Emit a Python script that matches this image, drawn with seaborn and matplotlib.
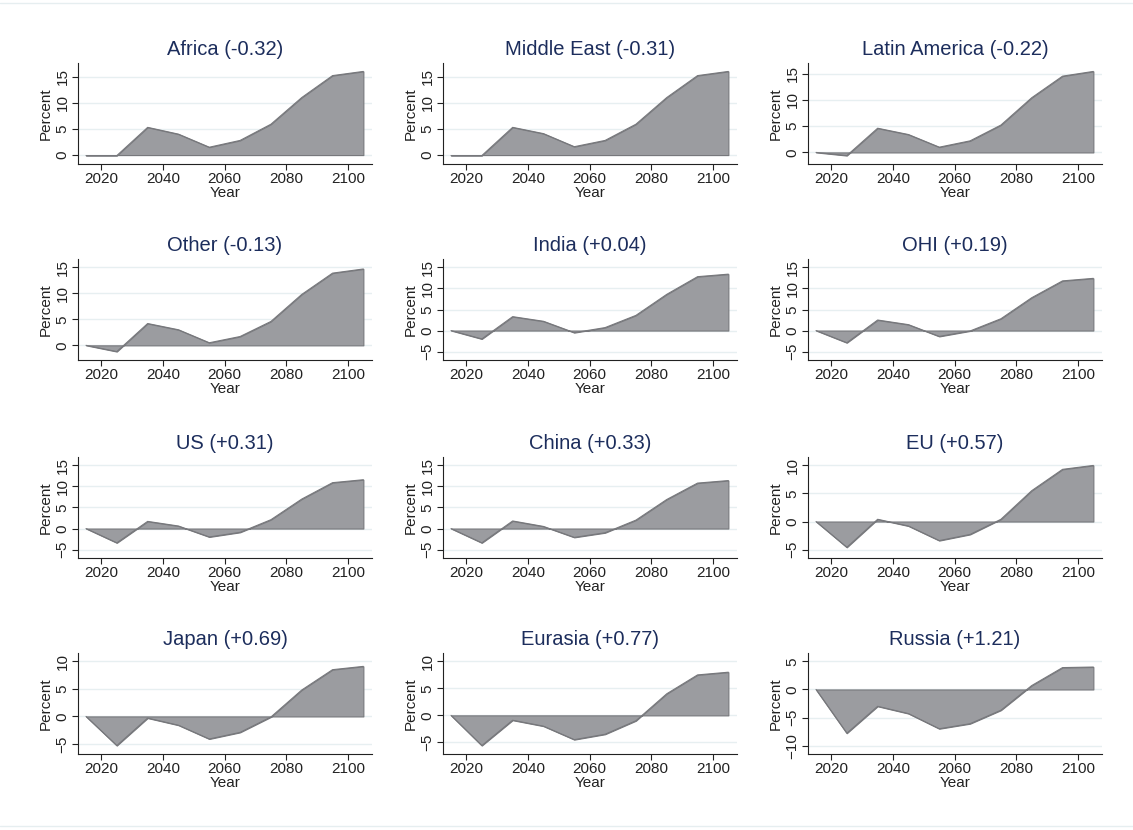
import numpy as np
import pandas as pd
import matplotlib
matplotlib.use("Agg")
import matplotlib.pyplot as plt
from matplotlib.lines import Line2D
import seaborn as sns

# Projection years and percent change by region
years = [2015, 2025, 2035, 2045, 2055, 2065, 2075, 2085, 2095, 2105]

regions = ["Africa", "Middle East", "Latin America",
           "Other", "India", "OHI",
           "US", "China", "EU",
           "Japan", "Eurasia", "Russia"]

coefs = ["-0.32", "-0.31", "-0.22",
         "-0.13", "+0.04", "+0.19",
         "+0.31", "+0.33", "+0.57",
         "+0.69", "+0.77", "+1.21"]

africa = [-0.1, -0.1, 5.3, 4.0, 1.5, 2.8, 5.9, 11.0, 15.2, 16.0]
middle_east = [-0.1, -0.1, 5.3, 4.1, 1.6, 2.8, 5.9, 11.0, 15.2, 16.0]
latin_america = [0.0, -0.6, 4.6, 3.4, 1.0, 2.2, 5.2, 10.4, 14.5, 15.4]
other = [0.0, -1.2, 4.2, 3.0, 0.5, 1.7, 4.6, 9.8, 13.9, 14.7]
india = [0.0, -2.0, 3.3, 2.2, -0.5, 0.7, 3.6, 8.6, 12.8, 13.4]
ohi = [0.0, -2.9, 2.5, 1.4, -1.4, -0.1, 2.8, 7.8, 11.8, 12.4]
us = [0.0, -3.4, 1.7, 0.6, -2.0, -0.9, 2.1, 7.0, 10.9, 11.6]
china = [0.0, -3.4, 1.8, 0.5, -2.1, -1.0, 2.0, 6.9, 10.8, 11.4]
eu = [0.0, -4.6, 0.4, -0.8, -3.4, -2.3, 0.4, 5.5, 9.3, 10.0]
japan = [0.0, -5.3, -0.3, -1.6, -4.1, -2.9, -0.1, 4.8, 8.5, 9.1]
eurasia = [0.0, -5.6, -0.9, -2.0, -4.5, -3.5, -1.0, 4.0, 7.5, 8.0]
russia = [0.0, -7.8, -3.0, -4.3, -7.0, -6.1, -3.7, 0.7, 3.9, 4.0]

series = [africa, middle_east, latin_america,
          other, india, ohi,
          us, china, eu,
          japan, eurasia, russia]

# y-axis tick marks for each panel
yticks = [[0, 5, 10, 15], [0, 5, 10, 15], [0, 5, 10, 15],
          [0, 5, 10, 15], [-5, 0, 5, 10, 15], [-5, 0, 5, 10, 15],
          [-5, 0, 5, 10, 15], [-5, 0, 5, 10, 15], [-5, 0, 5, 10],
          [-5, 0, 5, 10], [-5, 0, 5, 10], [-10, -5, 0, 5]]
xticks = [2020, 2040, 2060, 2080, 2100]

df = pd.DataFrame({
    "Region": np.repeat(regions, len(years)),
    "Year": years * len(regions),
    "Percent": np.concatenate(series),
})

sns.set_theme(style="white")
plt.rcParams["font.family"] = ["Liberation Sans", "DejaVu Sans"]

FILL = "#9b9ca0"
EDGE = "#77787c"
TITLE = "#1c2d5c"
GRID = "#e7eff1"
INK = "#222222"

W, H = 1133, 830
fig = plt.figure(figsize=(W / 100, H / 100), dpi=100)
fig.patch.set_facecolor("white")

col_left = [78, 443, 808]
row_top = [63, 259, 457, 653]
ax_w, ax_h = 294, 101

for i, region in enumerate(regions):
    r, c = divmod(i, 3)
    ax = fig.add_axes([col_left[c] / W, 1 - (row_top[r] + ax_h) / H, ax_w / W, ax_h / H])
    sub = df[df["Region"] == region]

    ax.fill_between(sub["Year"], sub["Percent"], 0, facecolor=FILL,
                    edgecolor=EDGE, linewidth=0.8, zorder=2)
    sns.lineplot(data=sub, x="Year", y="Percent", ax=ax, color=EDGE,
                 linewidth=0.8, zorder=3)

    ticks = yticks[i]
    lo = min(sub["Percent"].min(), min(ticks))
    hi = max(sub["Percent"].max(), max(ticks))
    pad = 0.1 * (hi - lo)
    ax.set_ylim(lo - pad, hi + pad)
    ax.set_xlim(2012.4, 2107.8)

    ax.set_yticks(ticks)
    ax.set_xticks(xticks)
    for t in ticks:
        ax.axhline(t, color=GRID, linewidth=1.0, zorder=1)

    ax.tick_params(axis="both", which="major", direction="out", length=4,
                   width=0.8, color=INK, labelsize=11,
                   labelcolor=INK, pad=2, left=True, bottom=True)
    ax.tick_params(axis="y", labelrotation=90)
    for lab in ax.get_yticklabels():
        lab.set_va("center")

    for side in ["top", "right"]:
        ax.spines[side].set_visible(False)
    for side in ["left", "bottom"]:
        ax.spines[side].set_color(INK)
        ax.spines[side].set_linewidth(0.8)

    ax.set_xlabel("Year", fontsize=11, color=INK, labelpad=0)
    ax.set_ylabel("Percent", fontsize=11, color=INK, labelpad=2)
    ax.set_title(f"{region} ({coefs[i]})", fontsize=14.5, color=TITLE, pad=6)
    ax.grid(False)

# thin frame lines of the graph region
for yp in (3, 826):
    fig.add_artist(Line2D([0, 1], [1 - yp / H, 1 - yp / H], color="#e6eef0",
                          linewidth=1.0, transform=fig.transFigure))

fig.savefig("out.png", dpi=100, facecolor="white")
